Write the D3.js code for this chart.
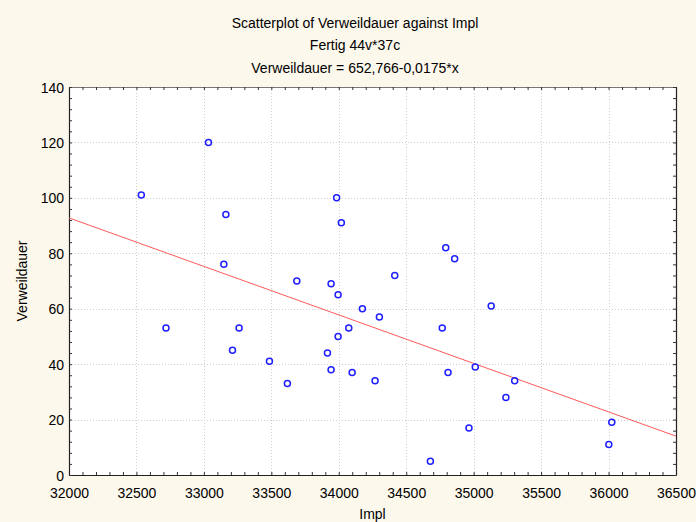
<!DOCTYPE html>
<html>
<head>
<meta charset="utf-8">
<script src="https://cdn.jsdelivr.net/npm/d3@7"></script>
<style>
  html, body { margin: 0; padding: 0; background: #fdf8ec; }
  svg { display: block; }
  text { font-family: "Liberation Sans", Arial, sans-serif; fill: #000; }
</style>
</head>
<body>
<svg id="chart" width="696" height="522"></svg>
<script>
// Impl (x) and Verweildauer (y) per case
const impl = [32536, 32719, 33034, 33163, 33148, 33212, 33261, 33486, 33619, 33689,
              33916, 33943, 33943, 33984, 33995, 33995, 34019, 34074, 34099, 34175,
              34269, 34301, 34415, 34679, 34767, 34793, 34810, 34859, 34965, 35012,
              35130, 35239, 35304, 36002, 36024];
const verweildauer = [101, 53, 120, 94, 76, 45, 53, 41, 33, 70,
                      44, 69, 38, 100, 65, 50, 91, 53, 37, 60,
                      34, 57, 72, 5, 53, 82, 37, 78, 17, 39,
                      61, 28, 34, 11, 19];

// Fitted line: Verweildauer = 652,766 - 0,0175 * x
const intercept = 652.766;
const slope = -0.0175;

const xTicks = [32000, 32500, 33000, 33500, 34000, 34500, 35000, 35500, 36000, 36500];
const yTicks = [0, 20, 40, 60, 80, 100, 120, 140];
const titleLines = ["Scatterplot of Verweildauer against Impl", "Fertig 44v*37c", "Verweildauer = 652,766-0,0175*x"];

const svg = d3.select("#chart");
const W = 696, H = 522;
const m = { left: 69, right: 696 - 676, top: 87, bottom: 522 - 475 };
const FS = 14;

svg.append("rect").attr("width", W).attr("height", H).attr("fill", "#fdf8ec");

const x = d3.scaleLinear().domain([32000, 36500]).range([m.left, W - m.right]);
const y = d3.scaleLinear().domain([0, 140]).range([H - m.bottom, m.top]);

// plot area
svg.append("rect")
  .attr("x", x(32000)).attr("y", y(140))
  .attr("width", x(36500) - x(32000)).attr("height", y(0) - y(140))
  .attr("fill", "#ffffff");

// dotted grid
const grid = svg.append("g").attr("stroke", "#cfcfcf").attr("stroke-width", 1).attr("stroke-dasharray", "1,2");
grid.selectAll("line.v").data(xTicks.slice(1, -1)).join("line")
  .attr("x1", d => Math.round(x(d)) + 0.5).attr("x2", d => Math.round(x(d)) + 0.5)
  .attr("y1", y(140)).attr("y2", y(0));
grid.selectAll("line.h").data(yTicks.slice(1, -1)).join("line")
  .attr("y1", d => Math.round(y(d)) + 0.5).attr("y2", d => Math.round(y(d)) + 0.5)
  .attr("x1", x(32000)).attr("x2", x(36500));

// axes with inward ticks on all four sides
const xMinor = d3.range(32000, 36501, 100);
const yMinor = d3.range(0, 141, 4);
const fmt = d3.format("d");

const axBottom = svg.append("g").attr("transform", `translate(0,${y(0)})`)
  .call(d3.axisBottom(x).tickValues(xMinor).tickSize(-3).tickSizeOuter(0)
    .tickFormat(d => xTicks.includes(d) ? fmt(d) : ""));
const axTop = svg.append("g").attr("transform", `translate(0,${y(140)})`)
  .call(d3.axisTop(x).tickValues(xMinor).tickSize(-3).tickSizeOuter(0).tickFormat(""));
const axLeft = svg.append("g").attr("transform", `translate(${x(32000)},0)`)
  .call(d3.axisLeft(y).tickValues(yMinor).tickSize(-3).tickSizeOuter(0)
    .tickFormat(d => yTicks.includes(d) ? fmt(d) : ""));
const axRight = svg.append("g").attr("transform", `translate(${x(36500)},0)`)
  .call(d3.axisRight(y).tickValues(yMinor).tickSize(-3).tickSizeOuter(0).tickFormat(""));

[axBottom, axTop, axLeft, axRight].forEach(g => {
  g.select(".domain").attr("stroke", "#222").attr("stroke-width", 1.2);
  g.selectAll(".tick line").attr("stroke", "#333");
  g.selectAll("text").attr("font-size", FS).attr("fill", "#000")
    .style("font-family", '"Liberation Sans", Arial, sans-serif');
});
axTop.select(".domain").attr("stroke", "#777");
axBottom.selectAll("text").attr("dy", 0).attr("y", 23);
axLeft.selectAll("text").attr("x", -5).attr("dy", "0.36em");

// regression line
svg.append("line")
  .attr("x1", x(32000)).attr("y1", y(intercept + slope * 32000))
  .attr("x2", x(36500)).attr("y2", y(intercept + slope * 36500))
  .attr("stroke", "#ff5a5a").attr("stroke-width", 1);

// points
svg.append("g").selectAll("circle").data(impl.map((v, i) => [v, verweildauer[i]])).join("circle")
  .attr("cx", d => x(d[0])).attr("cy", d => y(d[1])).attr("r", 3)
  .attr("fill", "none").attr("stroke", "#1f1fff").attr("stroke-width", 1.5);

// titles
svg.append("g").selectAll("text").data(titleLines).join("text")
  .attr("x", 355).attr("y", (d, i) => [28, 50, 73][i])
  .attr("text-anchor", "middle").attr("font-size", FS).text(d => d);

// axis titles
svg.append("text").attr("x", x(34250)).attr("y", 519)
  .attr("text-anchor", "middle").attr("font-size", FS).text("Impl");
svg.append("text").attr("transform", `translate(27,${(y(0) + y(140)) / 2}) rotate(-90)`)
  .attr("text-anchor", "middle").attr("font-size", FS).text("Verweildauer");
</script>
</body>
</html>
